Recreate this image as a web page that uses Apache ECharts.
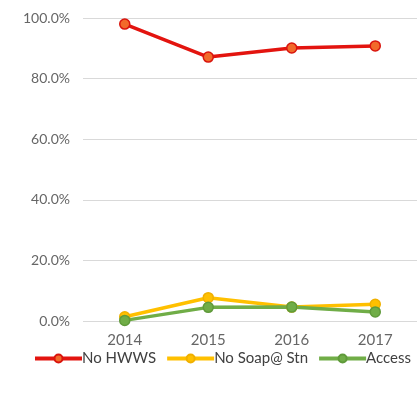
<!DOCTYPE html>
<html>
<head>
<meta charset="utf-8">
<script src="https://cdn.jsdelivr.net/npm/echarts@6/dist/echarts.min.js"></script>
<style>
html,body{margin:0;padding:0;background:#fff;}
#chart{width:418px;height:393px;}
</style>
</head>
<body>
<div id="chart"></div>
<script>
// Years on the category axis
var years = ['2014', '2015', '2016', '2017'];
// Shares per year (fractions)
var noHwws = [0.980, 0.871, 0.901, 0.908];
var noSoap = [0.014, 0.077, 0.046, 0.055];
var access = [0.002, 0.045, 0.046, 0.030];
// Y axis ticks
var yTicks = [0, 0.2, 0.4, 0.6, 0.8, 1.0];

var font = 'Lato, "Open Sans", sans-serif';

function lineSeries(name, data, lineColor, fillColor, borderColor) {
  return {
    name: name,
    type: 'line',
    data: data,
    symbol: 'circle',
    symbolSize: 10,
    lineStyle: { color: lineColor, width: 3.5 },
    itemStyle: { color: fillColor, borderColor: borderColor, borderWidth: 1.5 },
    emphasis: { disabled: true },
    z: 3
  };
}

var chart = echarts.init(document.getElementById('chart'), null, { renderer: 'canvas' });
chart.setOption({
  animation: false,
  backgroundColor: '#ffffff',
  grid: { left: 83, right: 1, top: 18, bottom: 72, containLabel: false },
  legend: {
    left: 33,
    top: 351,
    width: 600,
    padding: 0,
    itemWidth: 47,
    itemHeight: 10,
    itemGap: 9,
    lineStyle: { width: 4 },
    textStyle: { color: '#404040', fontSize: 15, fontFamily: font, padding: [0, 0, 0, -5] },
    data: ['No HWWS', 'No Soap@ Stn', 'Access']
  },
  xAxis: {
    type: 'category',
    data: years,
    boundaryGap: true,
    axisLine: { show: false },
    axisTick: { show: false },
    axisLabel: { color: '#666666', fontSize: 15, fontFamily: font, margin: 12 }
  },
  yAxis: {
    type: 'value',
    min: yTicks[0],
    max: yTicks[yTicks.length - 1],
    interval: 0.2,
    axisLine: { show: false },
    axisTick: { show: false },
    splitLine: { lineStyle: { color: '#d9d9d9', width: 1 } },
    axisLabel: {
      color: '#666666', fontSize: 14, fontFamily: font, margin: 13,
      formatter: function (v) { return (v * 100).toFixed(1) + '%'; }
    }
  },
  series: [
    lineSeries('No HWWS', noHwws, '#e3140f', '#f26a2a', '#d9140d'),
    lineSeries('No Soap@ Stn', noSoap, '#ffc000', '#ffc000', '#f0b000'),
    lineSeries('Access', access, '#70ad47', '#70ad47', '#5f9a3a')
  ]
});
</script>
</body>
</html>
